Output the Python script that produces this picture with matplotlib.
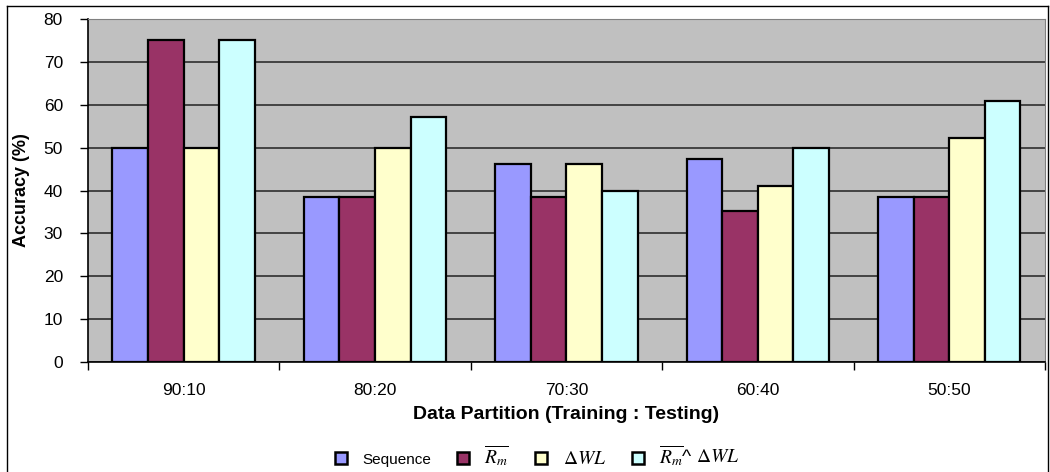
import matplotlib
matplotlib.use("Agg")
import matplotlib.pyplot as plt
from matplotlib.lines import Line2D
import numpy as np

# data
partitions = ["90:10", "80:20", "70:30", "60:40", "50:50"]
series_names = ["Sequence", r"$\overline{R_m}$", r"$\Delta WL$", r"$\overline{R_m}$^ $\Delta WL$"]
sequence = [50.0, 38.5, 46.1, 47.4, 38.5]
rm = [75.0, 38.5, 38.5, 35.3, 38.5]
dwl = [50.0, 50.0, 46.1, 41.0, 52.2]
rm_dwl = [75.0, 57.1, 40.0, 50.0, 60.8]
colors = ["#9999FF", "#993366", "#FFFFCC", "#CCFFFF"]

plt.rcParams['font.family'] = ['Liberation Sans Narrow', 'Liberation Sans', 'DejaVu Sans']
plt.rcParams['mathtext.fontset'] = 'stix'

fig = plt.figure(figsize=(10.5, 4.72), dpi=100)
ax = fig.add_axes([0.0838, 0.233, 0.9114, 0.7267])
ax.set_facecolor("#C0C0C0")

x = np.arange(len(partitions))
w = 0.186
allvals = [sequence, rm, dwl, rm_dwl]
for i, vals in enumerate(allvals):
    ax.bar(x + (i - 1.5) * w, vals, w, color=colors[i], edgecolor="black",
           linewidth=1.6, zorder=3)

ax.set_ylim(0, 80)
ax.set_xlim(-0.5, len(partitions) - 0.5)
ax.set_yticks(range(0, 81, 10))
ax.yaxis.grid(True, color="#222222", linewidth=1.1, zorder=0)
ax.set_axisbelow(True)

ax.set_xticks(x)
ax.set_xticklabels(partitions, fontsize=12.5)
ax.set_xticks(np.arange(-0.5, len(partitions)), minor=True)
ax.tick_params(axis="x", which="major", length=0, pad=15)
ax.tick_params(axis="x", which="minor", length=6, width=1, color="black")
ax.tick_params(axis="y", length=6, width=1, labelsize=12.5, pad=12)

for side in ["top", "right"]:
    ax.spines[side].set_color("#808080")
ax.spines["left"].set_color("black")
ax.spines["bottom"].set_color("black")
ax.spines["left"].set_linewidth(1.2)
ax.spines["bottom"].set_linewidth(1.2)

ax.set_ylabel("Accuracy (%)", fontsize=13, fontweight="bold",
              family=['Liberation Sans', 'DejaVu Sans'], labelpad=10)
ax.set_xlabel("Data Partition (Training : Testing)", fontsize=14, fontweight="bold", labelpad=6)

handles = [Line2D([0], [0], marker="s", linestyle="none", markersize=9,
                  markerfacecolor=c, markeredgecolor="black", markeredgewidth=1.8)
           for c in colors]
leg = fig.legend(handles, series_names, loc="center", bbox_to_anchor=(0.511, 0.034),
                 ncol=4, frameon=False, fontsize=11, handlelength=1.0,
                 handletextpad=0.9, columnspacing=1.6)
for t in leg.get_texts()[1:]:
    t.set_fontsize(14)

# outer chart frame
fig.add_artist(Line2D([0.007, 0.007], [0, 0.987], color="black", linewidth=1, transform=fig.transFigure))
fig.add_artist(Line2D([0.007, 0.998], [0.987, 0.987], color="black", linewidth=1, transform=fig.transFigure))
fig.add_artist(Line2D([0.998, 0.998], [0, 0.987], color="black", linewidth=1, transform=fig.transFigure))

fig.savefig("out.png", dpi=100)
